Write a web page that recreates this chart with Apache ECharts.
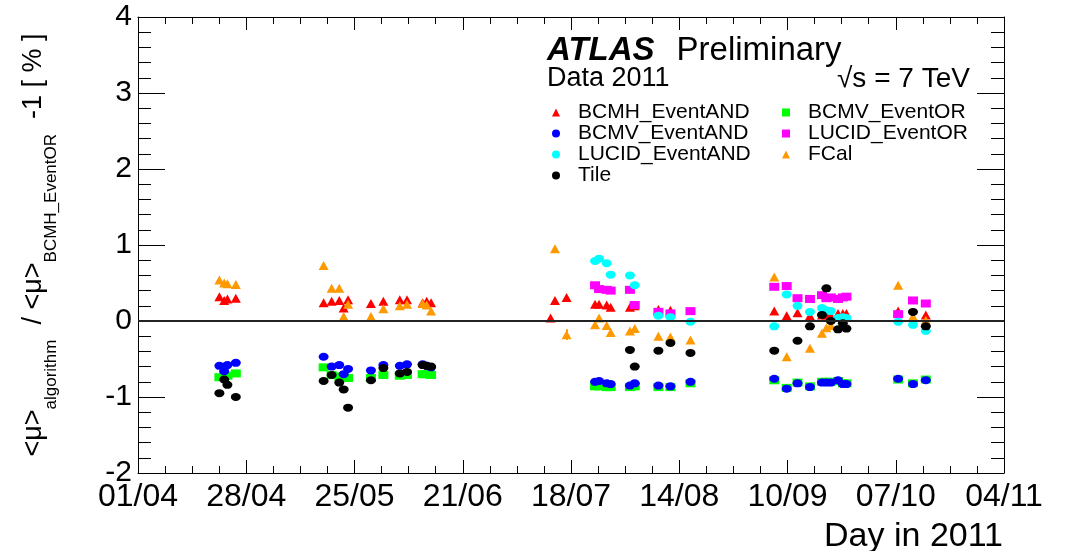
<!DOCTYPE html>
<html>
<head>
<meta charset="utf-8">
<script src="https://cdn.jsdelivr.net/npm/echarts@6/dist/echarts.min.js"></script>
<style>
  html, body { margin: 0; padding: 0; background: #ffffff; }
  #chart { width: 1068px; height: 551px; }
</style>
</head>
<body>
<div id="chart"></div>
<script>
// x values are days counted from 01/04/2011; y values are the relative
// difference of each algorithm's <mu> to BCMH_EventOR, in percent.
const tickLabels = ['01/04', '28/04', '25/05', '21/06', '18/07', '14/08', '10/09', '07/10', '04/11'];
const tickStepDays = 27;

const bcmhEventAND = [
  [20.3, 0.32], [21.5, 0.27], [22.3, 0.29], [24.4, 0.30],
  [46.3, 0.24], [48.3, 0.26], [50.2, 0.27], [51.3, 0.17], [52.4, 0.28],
  [58.1, 0.23], [61.2, 0.26], [65.3, 0.28], [67.1, 0.28],
  [71.0, 0.24], [72.0, 0.26], [73.1, 0.24],
  [102.9, 0.04], [104.0, 0.27], [106.9, 0.31],
  [114.0, 0.22], [115.0, 0.22], [116.9, 0.21], [117.9, 0.18],
  [122.7, 0.18], [123.9, 0.20], [129.8, 0.15], [132.8, 0.14],
  [158.7, 0.13], [161.8, 0.07], [164.5, 0.11], [167.6, 0.07], [170.6, 0.08],
  [171.7, 0.08], [172.8, 0.07], [174.6, 0.10], [175.8, 0.10], [176.7, 0.10],
  [189.6, 0.13], [196.5, 0.08]
];

const bcmvEventAND = [
  [20.3, -0.59], [21.5, -0.66], [22.3, -0.58], [24.4, -0.55],
  [46.3, -0.47], [48.3, -0.60], [50.2, -0.58], [51.3, -0.70], [52.4, -0.63],
  [58.1, -0.65], [61.2, -0.58], [65.3, -0.59], [67.1, -0.57],
  [71.0, -0.57], [72.0, -0.59], [73.1, -0.61],
  [114.0, -0.80], [115.0, -0.79], [116.9, -0.82], [117.9, -0.83],
  [122.7, -0.85], [123.9, -0.82], [129.8, -0.85], [132.8, -0.86], [137.8, -0.80],
  [158.7, -0.76], [161.8, -0.89], [164.5, -0.82], [167.6, -0.87], [170.6, -0.81],
  [171.7, -0.81], [172.8, -0.81], [174.6, -0.78], [175.8, -0.83], [176.7, -0.83],
  [189.6, -0.76], [193.3, -0.83], [196.5, -0.78]
];

const lucidEventAND = [
  [114.0, 0.79], [115.0, 0.82], [116.9, 0.76], [117.9, 0.61],
  [122.7, 0.60], [123.9, 0.47], [129.8, 0.07], [132.8, 0.05], [137.8, -0.01],
  [158.7, -0.07], [161.8, 0.35], [164.5, 0.20], [167.6, 0.12], [170.6, 0.17],
  [171.7, 0.14], [172.8, 0.13], [174.6, 0.04], [175.8, 0.05], [176.7, 0.04],
  [189.6, -0.01], [193.3, -0.05], [196.5, -0.13]
];

const tile = [
  [20.3, -0.95], [21.5, -0.77], [22.3, -0.84], [24.4, -1.00],
  [46.3, -0.79], [48.3, -0.71], [50.2, -0.81], [51.3, -0.90], [52.4, -1.14],
  [58.1, -0.78], [61.2, -0.62], [65.3, -0.69], [67.1, -0.67],
  [71.0, -0.58], [72.0, -0.59], [73.1, -0.60],
  [122.7, -0.38], [123.9, -0.60], [129.8, -0.39], [132.8, -0.29], [137.8, -0.42],
  [158.7, -0.39], [164.5, -0.26], [167.6, -0.07], [170.6, 0.08], [171.7, 0.43],
  [172.8, 0.00], [174.6, -0.11], [175.8, -0.03], [176.7, -0.10],
  [193.3, 0.12], [196.5, -0.07]
];

const bcmvEventOR = [
  [20.3, -0.74], [21.5, -0.73], [22.3, -0.72], [24.4, -0.69],
  [46.3, -0.61], [48.3, -0.71], [50.2, -0.73], [51.3, -0.73], [52.4, -0.75],
  [58.1, -0.75], [61.2, -0.71], [65.3, -0.72], [67.1, -0.71],
  [71.0, -0.70], [72.0, -0.70], [73.1, -0.71],
  [114.0, -0.86], [115.0, -0.86], [116.9, -0.87], [117.9, -0.87],
  [122.7, -0.87], [123.9, -0.86], [129.8, -0.87], [132.8, -0.87], [137.8, -0.82],
  [158.7, -0.78], [161.8, -0.88], [164.5, -0.81], [167.6, -0.86], [170.6, -0.80],
  [171.7, -0.80], [172.8, -0.80], [174.6, -0.79], [175.8, -0.82], [176.7, -0.82],
  [189.6, -0.77], [193.3, -0.82], [196.5, -0.77]
];

const lucidEventOR = [
  [114.0, 0.47], [115.0, 0.42], [116.9, 0.41], [117.9, 0.40],
  [122.7, 0.41], [123.9, 0.21], [129.8, 0.12], [132.8, 0.10], [137.8, 0.13],
  [158.7, 0.45], [161.8, 0.46], [164.5, 0.30], [167.6, 0.29], [170.6, 0.34],
  [171.7, 0.30], [172.8, 0.31], [174.6, 0.29], [175.8, 0.31], [176.7, 0.32],
  [189.6, 0.09], [193.3, 0.27], [196.5, 0.23]
];

const fcal = [
  [20.3, 0.54], [21.5, 0.50], [22.3, 0.49], [24.4, 0.48],
  [46.3, 0.73], [48.3, 0.43], [50.2, 0.43], [51.3, 0.06], [52.4, 0.22],
  [58.1, 0.06], [61.2, 0.16], [65.3, 0.20], [67.1, 0.22],
  [71.0, 0.23], [72.0, 0.21], [73.1, 0.13],
  [104.0, 0.95], [106.9, -0.18],
  [114.0, -0.05], [115.0, 0.04], [116.9, -0.06], [117.9, -0.15],
  [122.7, -0.13], [123.9, -0.10], [129.8, -0.20], [132.8, -0.21], [137.8, -0.25],
  [158.7, 0.58], [161.8, -0.47], [167.6, -0.36], [170.6, -0.16], [171.7, -0.09], [172.8, -0.06],
  [189.6, 0.47], [193.3, 0.06], [196.5, 0.01]
];
// one FCal point carries a visible error bar: [day, low, high]
const fcalErrorBar = [106.9, -0.25, -0.11];

const FONT = '"Liberation Sans", Arial, Helvetica, sans-serif';

const styles = {
  BCMH_EventAND:  { data: bcmhEventAND,  symbol: 'triangle', size: [10, 9], color: '#ff0000' },
  BCMV_EventAND:  { data: bcmvEventAND,  symbol: 'circle',   size: [10, 8], color: '#0000ff' },
  LUCID_EventAND: { data: lucidEventAND, symbol: 'circle',   size: [10, 8], color: '#00ffff' },
  Tile:           { data: tile,          symbol: 'circle',   size: [10, 8], color: '#000000' },
  BCMV_EventOR:   { data: bcmvEventOR,   symbol: 'rect',     size: [10, 8], color: '#00ff00' },
  LUCID_EventOR:  { data: lucidEventOR,  symbol: 'rect',     size: [10, 8], color: '#ff00ff' },
  FCal:           { data: fcal,          symbol: 'triangle', size: [10, 9], color: '#ff9900' }
};
// drawing order, later entries on top
const drawOrder = ['BCMH_EventAND', 'BCMV_EventOR', 'BCMV_EventAND', 'LUCID_EventOR', 'LUCID_EventAND', 'FCal', 'Tile'];
const legendLeft = ['BCMH_EventAND', 'BCMV_EventAND', 'LUCID_EventAND', 'Tile'];
const legendRight = ['BCMV_EventOR', 'LUCID_EventOR', 'FCal'];

const series = drawOrder.map(function (name) {
  const s = styles[name];
  const out = {
    name: name,
    type: 'scatter',
    data: s.data,
    symbol: s.symbol,
    symbolSize: s.size,
    itemStyle: { color: s.color, opacity: 1 },
    emphasis: { disabled: true },
    silent: true
  };
  if (name === 'FCal') {
    out.markLine = {
      silent: true, symbol: 'none', animation: false,
      label: { show: false },
      lineStyle: { color: s.color, width: 2, type: 'solid' },
      data: [[{ coord: [fcalErrorBar[0], fcalErrorBar[1]] }, { coord: [fcalErrorBar[0], fcalErrorBar[2]] }]]
    };
  }
  if (name === 'BCMH_EventAND') {
    out.markLine = {
      silent: true, symbol: 'none', animation: false,
      label: { show: false },
      lineStyle: { color: '#222222', width: 2, type: 'solid' },
      data: [{ yAxis: 0 }]
    };
  }
  return out;
});

const legendCommon = {
  orient: 'vertical',
  itemWidth: 8,
  itemHeight: 8,
  itemGap: 0,
  selectedMode: false,
  textStyle: { fontFamily: FONT, fontSize: 21, color: '#000', padding: [0, 0, 0, 13] }
};

const xTickFmt = function (v) { return tickLabels[Math.round(v / tickStepDays)] || ''; };

const axisLineStyle = { show: true, onZero: false, lineStyle: { color: '#000', width: 1 } };

const option = {
  animation: false,
  backgroundColor: '#ffffff',
  grid: { left: 138, right: 64, top: 17, bottom: 78, containLabel: false },
  title: [
    {
      text: '{a|ATLAS}{b|Preliminary}', left: 542, top: 29,
      textStyle: { rich: {
        a: { fontFamily: FONT, fontSize: 33, fontWeight: 'bold', fontStyle: 'italic', color: '#000' },
        b: { fontFamily: FONT, fontSize: 33, fontWeight: 'normal', color: '#000', padding: [0, 0, 0, 22] }
      } }
    },
    { text: 'Data 2011', left: 542, top: 60, textStyle: { fontFamily: FONT, fontSize: 27, fontWeight: 'normal', color: '#000' } },
    { text: '√s = 7 TeV', left: 832, top: 60, textStyle: { fontFamily: FONT, fontSize: 28, fontWeight: 'normal', color: '#000' } },
    { text: 'Day in 2011', right: 60, top: 515, textStyle: { fontFamily: FONT, fontSize: 34, fontWeight: 'normal', color: '#000' } }
  ],
  legend: [
    Object.assign({}, legendCommon, { data: legendLeft, left: 547, top: 97 }),
    Object.assign({}, legendCommon, { data: legendRight, left: 777, top: 97 })
  ],
  xAxis: [
    {
      type: 'value', min: 0, max: tickStepDays * (tickLabels.length - 1), interval: tickStepDays,
      position: 'bottom',
      axisLine: axisLineStyle,
      axisTick: { show: true, inside: true, length: 13, lineStyle: { color: '#000' } },
      minorTick: { show: true, splitNumber: 4, length: 7, lineStyle: { color: '#000' } },
      axisLabel: { formatter: xTickFmt, fontFamily: FONT, fontSize: 32, color: '#000', margin: 8 },
      splitLine: { show: false }
    },
    {
      type: 'value', min: 0, max: tickStepDays * (tickLabels.length - 1), interval: tickStepDays,
      position: 'top',
      axisLine: axisLineStyle,
      axisTick: { show: true, inside: true, length: 13, lineStyle: { color: '#000' } },
      minorTick: { show: true, splitNumber: 4, length: 7, lineStyle: { color: '#000' } },
      axisLabel: { show: false },
      splitLine: { show: false }
    }
  ],
  yAxis: [
    {
      type: 'value', min: -2, max: 4, interval: 1,
      position: 'left',
      axisLine: axisLineStyle,
      axisTick: { show: true, inside: true, length: 27, lineStyle: { color: '#000' } },
      minorTick: { show: true, splitNumber: 5, length: 13, lineStyle: { color: '#000' } },
      axisLabel: { fontFamily: FONT, fontSize: 30, color: '#000', margin: 6 },
      splitLine: { show: false },
      name: '{m|<μ>}{s|algorithm}{m|  / <μ>}{s|BCMH_EventOR}{m|  -1 [ % ]}',
      nameLocation: 'middle',
      nameRotate: 90,
      nameGap: 78,
      nameTextStyle: { rich: {
        m: { fontFamily: FONT, fontSize: 27, color: '#000', lineHeight: 40, verticalAlign: 'top' },
        s: { fontFamily: FONT, fontSize: 17, color: '#000', lineHeight: 40, verticalAlign: 'bottom' }
      } }
    },
    {
      type: 'value', min: -2, max: 4, interval: 1,
      position: 'right',
      axisLine: axisLineStyle,
      axisTick: { show: true, inside: true, length: 27, lineStyle: { color: '#000' } },
      minorTick: { show: true, splitNumber: 5, length: 13, lineStyle: { color: '#000' } },
      axisLabel: { show: false },
      splitLine: { show: false }
    }
  ],
  series: series
};

const chart = echarts.init(document.getElementById('chart'), null, { renderer: 'canvas' });
chart.setOption(option);
</script>
</body>
</html>
